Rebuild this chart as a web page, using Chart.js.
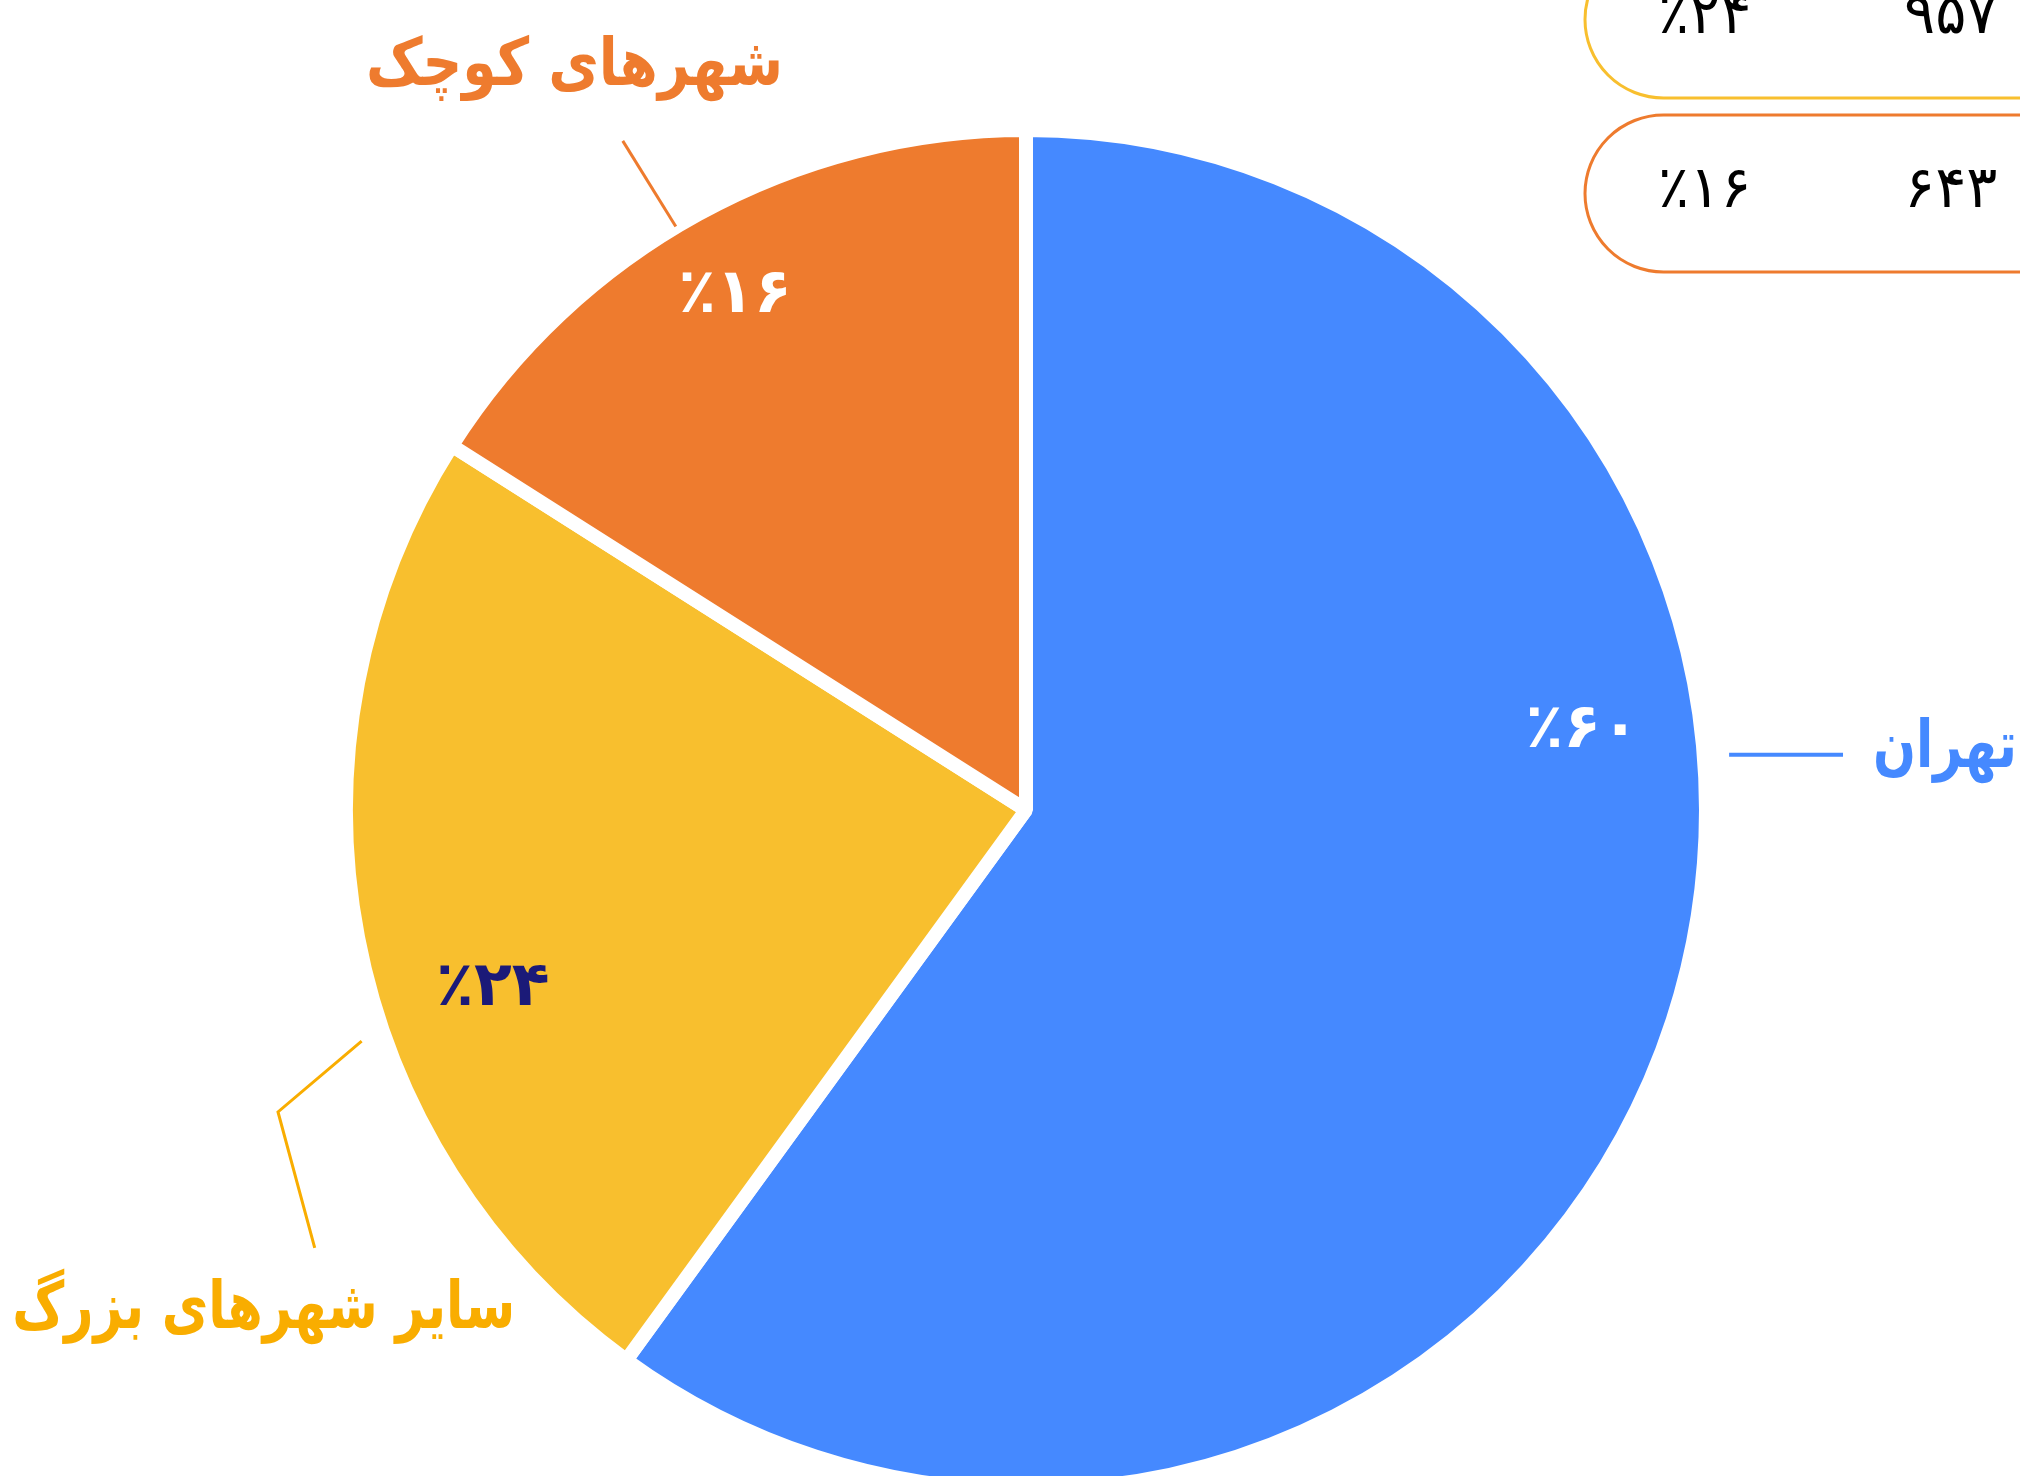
<!DOCTYPE html>
<html>
<head>
<meta charset="utf-8">
<script src="https://cdn.jsdelivr.net/npm/chart.js@4.4.0/dist/chart.umd.min.js"></script>
<style>
  html, body { margin: 0; padding: 0; background: #fff; overflow: hidden; }
  #wrap { width: 2020px; height: 1476px; overflow: hidden; }
</style>
</head>
<body>
<div id="wrap"><canvas id="pieChart" width="2020" height="1600"></canvas></div>
<script>
// data
var cities = ["تهران", "سایر شهرهای بزرگ", "شهرهای کوچک"];
var shares = [60, 24, 16];
var counts = [null, 957, 643]; // blue box is outside the picture
var colors = ["#4589FF", "#F8BF2E", "#EE7B2E"];
var nameColors = ["#4589FF", "#F9AD00", "#EE7B2E"];
var pctColors = ["#FFFFFF", "#1B1A78", "#FFFFFF"];

// label placement as offsets from the pie centre, in units of the radius
var pctPos = [[0.818, -0.116], [-0.784, 0.263], [-0.428, -0.756]];
var leaders = [
    [[1.034, -0.0813], [1.2015, -0.0813]],
    [[-0.977, 0.340], [-1.100, 0.444], [-1.046, 0.644]],
    [[-0.515, -0.858], [-0.593, -0.984]]
];
var namePos = [[1.2456, -0.0632, "left"], [-1.1211, 0.7618, "center"], [-0.664, -1.0662, "center"]];
var nameWidth = [144, 503, 417]; // DejaVu is wider than the original face
var leaderWidth = [4, 3, 3];

var FONT = '"DejaVu Sans", sans-serif';
var faDigits = "۰۱۲۳۴۵۶۷۸۹";
function toFa(n) {
    return String(n).replace(/[0-9]/g, function (d) { return faDigits[+d]; });
}

function at(arc, p) {
    return { x: arc.x + p[0] * arc.outerRadius, y: arc.y + p[1] * arc.outerRadius };
}

var labelPlugin = {
    id: "pieLabels",
    afterDatasetsDraw: function (chart) {
        var ctx = chart.ctx;
        var arcs = chart.getDatasetMeta(0).data;
        ctx.save();
        arcs.forEach(function (arc, i) {
            // percentage inside slice
            var p = at(arc, pctPos[i]);
            ctx.fillStyle = pctColors[i];
            ctx.font = "bold 62px " + FONT;
            ctx.textAlign = "center";
            ctx.textBaseline = "middle";
            ctx.fillText("٪" + toFa(shares[i]), p.x, p.y);

            // leader line
            ctx.strokeStyle = nameColors[i];
            ctx.lineWidth = leaderWidth[i];
            ctx.lineJoin = "miter";
            ctx.beginPath();
            leaders[i].forEach(function (q, k) {
                var pt = at(arc, q);
                if (k === 0) ctx.moveTo(pt.x, pt.y); else ctx.lineTo(pt.x, pt.y);
            });
            ctx.stroke();

            // city name, squashed to the original width
            var n = at(arc, namePos[i]);
            ctx.save();
            ctx.font = "bold 66px " + FONT;
            var sx = Math.min(1, nameWidth[i] / ctx.measureText(cities[i]).width);
            ctx.translate(n.x, n.y);
            ctx.scale(sx, 1);
            ctx.fillStyle = nameColors[i];
            ctx.textAlign = namePos[i][2];
            ctx.textBaseline = "alphabetic";
            ctx.fillText(cities[i], 0, 0);
            ctx.restore();
        });

        // count boxes, top right (stacked, last one lowest)
        var boxLeft = 1585, boxH = 157, step = 174, lastTop = 115;
        for (var i = 0; i < counts.length; i++) {
            if (counts[i] === null) continue;
            var top = lastTop - (counts.length - 1 - i) * step;
            var rr = boxH / 2;
            ctx.strokeStyle = colors[i];
            ctx.lineWidth = 3;
            ctx.beginPath();
            ctx.moveTo(chart.width + 20, top);
            ctx.lineTo(boxLeft + rr, top);
            ctx.arc(boxLeft + rr, top + rr, rr, -Math.PI / 2, Math.PI / 2, true);
            ctx.lineTo(chart.width + 20, top + boxH);
            ctx.stroke();

            ctx.fillStyle = "#000";
            ctx.font = "58px " + FONT;
            ctx.textAlign = "left";
            ctx.textBaseline = "alphabetic";
            ctx.fillText("٪" + toFa(shares[i]), 1658, top + rr + 13);
            ctx.fillText(toFa(counts[i]), 1904, top + rr + 13);
        }
        ctx.restore();
    }
};

new Chart("pieChart", {
    type: "pie",
    data: {
        labels: cities,
        datasets: [{
            data: shares,
            backgroundColor: colors,
            borderColor: "#FFFFFF",
            borderWidth: 14,
            hoverOffset: 0
        }]
    },
    options: {
        responsive: false,
        animation: false,
        radius: 680,
        layout: { padding: { left: 332, right: 300, top: 120, bottom: 100 } },
        plugins: {
            legend: { display: false },
            tooltip: { enabled: false }
        },
        events: []
    },
    plugins: [labelPlugin]
});
</script>
</body>
</html>
